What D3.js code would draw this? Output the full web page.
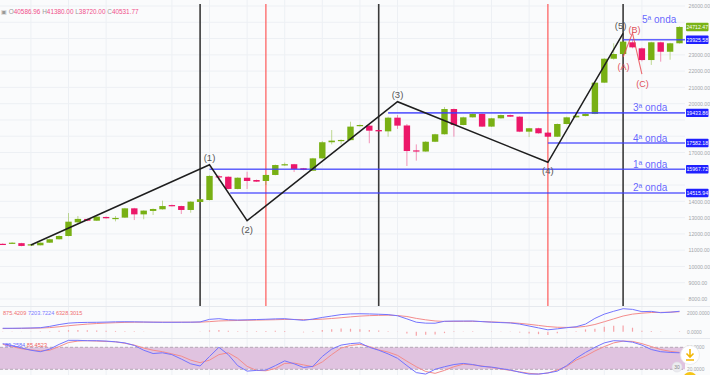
<!DOCTYPE html>
<html>
<head>
<meta charset="utf-8">
<script src="https://cdn.jsdelivr.net/npm/d3@7/dist/d3.min.js"></script>
<style>
    html, body { margin: 0; padding: 0; background: #fafbfc; }
    svg { display: block; font-family: "Liberation Sans", Arial, sans-serif; }
</style>
</head>
<body>
<svg id="chart" width="710" height="375"></svg>
<script>
// Weekly candles, Elliott wave count + MACD + Stochastic

const opens  = [11390,11400,11430,11290,11300,11460,11670,11870,12710,12920,12810,13040,12940,13000,13570,13200,13410,13510,13770,13710,13470,13960,
    14080,15540,15510,14760,15450,15310,15250,15620,16210,16280,16030,15880,16640,17630,17730,17760,18630,18650,18380,18300,19140,18660,17130,
    17060,17660,18120,19670,18690,19160,19370,18590,19100,19300,19200,18280,18490,18220,17970,18750,19160,19240,19370,21290,22760,23050,23770,
    23400,22680,23770,23190,23710];
const highs  = [11420,11490,11450,11380,11480,11700,11920,13280,13100,12950,13090,13070,13100,13600,13600,13450,13560,14040,13800,13730,14010,14160,
    15600,15620,15540,15480,15820,15340,15650,16260,16380,16300,16050,16670,17700,18380,17800,18890,18720,18680,18400,19200,19300,18750,17500,
    17700,18150,19800,19700,19200,19400,19400,19130,19330,19330,19230,18510,18520,18240,18780,19200,19300,19400,21320,22800,23710,23860,23900,
    23450,23800,23800,23740,24750];
const lows   = [11330,11380,11240,11270,11290,11440,11650,11850,12680,12780,12790,12940,12770,12980,12850,12900,13160,13490,13690,13220,13300,13940,
    14060,15270,14740,14740,14760,15190,15000,15600,16180,15800,15910,15860,16620,17500,17500,17740,18600,17570,18280,17970,18450,16170,16500,
    17040,17640,18100,17970,18670,19140,18570,18570,19080,19180,18250,17950,18160,17950,17950,18730,19140,19220,19350,21270,22700,23020,23400,
    22600,22380,22580,22700,23690];
const closes = [11360,11460,11260,11360,11460,11670,11870,12750,12920,12810,13060,12960,12980,13570,13200,13430,13530,13710,13710,13470,13980,14130,
    15560,15510,14760,15450,15250,15210,15620,16230,16280,15990,15930,16640,17630,17730,17770,18590,18690,18340,18300,19140,18650,17090,17060,
    17660,18120,19670,18690,19160,19370,18590,19100,19300,19200,18280,18490,18180,17970,18750,19160,19260,19370,21290,22760,23050,23810,23460,
    22680,23770,23190,23710,24712.47];

// Elliott impulse (candle index, price) and corrective ABC
const waveIdx    = [3, 22, 26, 42, 58, 66];
const wavePrice  = [11320, 16250, 12810, 20120, 16400, 24320];
const waveLabels = ['', '(1)', '(2)', '(3)', '(4)', '(5)'];
const abcIdx     = [66, 67, 68];
const abcPrice   = [22870, 24340, 21820];
const abcLabels  = ['(A)', '(B)', '(C)'];

// Horizontal wave levels
const levelPrices = [23925.58, 19433.86, 17582.18, 15967.72, 14515.94];
const levelNames  = ['5ª onda', '3ª onda', '4ª onda', '1ª onda', '2ª onda'];
const levelFrom   = [66, 41, 58, 22, 24.2];

// Vertical markers (candle index)
const vlineIdx    = [21, 28, 40, 58, 66];
const vlineColor  = ['#3a3a3a', '#ff4a4a', '#3a3a3a', '#ff4a4a', '#3a3a3a'];

const timeGridIdx = [3, 7, 11, 18, 22, 26, 30, 34, 38, 42, 48, 52, 56, 60, 64, 68];
const priceTicks  = d3.range(8000, 26001, 1000);

// MACD pane
const macdLine = [360,360,370,390,420,560,750,900,960,980,990,1010,1040,1050,1040,1020,1000,990,990,995,1000,1030,1300,1370,1260,1230,1250,
    1280,1310,1350,1370,1280,1200,1330,1500,1650,1800,1870,1890,1870,1840,1800,1680,1350,1000,900,890,1100,1120,1120,1125,1060,1000,960,920,
    800,600,400,200,300,420,520,800,1400,1850,2150,2420,2350,2110,2140,2000,2050,2150];
const macdSignal = [330,340,350,365,385,430,520,630,720,800,860,910,950,980,1000,1005,1005,1000,1000,1000,1000,1005,1060,1130,1160,1180,1200,
    1220,1240,1260,1290,1290,1270,1280,1320,1390,1470,1560,1640,1690,1720,1740,1700,1600,1400,1250,1130,1080,1080,1090,1090,1070,1030,990,950,
    880,780,660,540,470,450,470,560,760,1050,1350,1650,1850,1950,2020,2030,2060,2100];
const macdHist = [20,20,20,30,40,60,100,160,180,150,120,100,80,60,40,20,0,-10,-10,0,0,20,140,180,100,50,50,60,70,90,80,0,-70,50,180,260,330,310,
    250,180,120,60,-20,-200,-420,-320,-300,-150,40,30,40,-10,-30,-30,-30,-80,-180,-260,-340,-170,-30,50,240,320,520,620,640,420,100,80,-30,-10,50];
const macdTexts = ['875.4209', '7203.7224', '6328.3015'];

// Stochastic pane
const stochK = [90,85,78,72,68,75,88,99,99,98,98,97,95,92,85,72,63,65,60,48,35,29,55,80,60,30,15,17,18,30,43,35,25,28,55,75,86,90,92,80,72,62,50,
    30,11,7,20,27,33,36,33,28,26,22,18,12,7,7,10,15,30,50,66,80,92,98,97,94,86,74,68,66,65];
const stochD = [88,82,76,73,70,72,82,93,97,98,97,96,95,91,86,78,72,68,62,56,45,38,45,60,65,50,28,17,16,22,36,37,32,27,40,60,78,85,88,82,73,67,58,
    42,27,14,9,17,27,34,32,29,25,21,17,13,9,7,10,18,28,45,56,70,82,92,97,96,90,82,74,69,66];
const stochTexts = ['89.2584', '85.4523'];

const ohlcTitle = [['O', '40586.96'], ['H', '41380.00'], ['L', '38720.00'], ['C', '40531.77']];

const GREEN = '#78b014', PINK = '#ec1769', LEVEL = '#3d3dff';
const plotRight = 685;

const svg = d3.select('#chart');
const x = d3.scaleLinear().domain([0, 72]).range([2.7, 679.5]);
const y = d3.scaleLinear().domain([8000, 26000]).range([299, 6]);
const macdY = d3.scaleLinear().domain([0, 2000]).range([331.7, 312.7]);
const stochY = d3.scaleLinear().domain([20, 80]).range([369.3, 347.3]);

svg.append('rect').attr('width', 710).attr('height', 375).attr('fill', '#fafbfc');

const defs = svg.append('defs');
defs.append('clipPath').attr('id', 'mainClip').append('rect').attr('x', 0).attr('y', 0).attr('width', plotRight).attr('height', 306);
defs.append('clipPath').attr('id', 'macdClip').append('rect').attr('x', 0).attr('y', 307).attr('width', plotRight).attr('height', 31);
defs.append('clipPath').attr('id', 'stochClip').append('rect').attr('x', 0).attr('y', 338).attr('width', plotRight).attr('height', 37);

// Grid
const grid = svg.append('g');
grid.selectAll('.hgrid').data(priceTicks).enter().append('line')
    .attr('x1', 0).attr('x2', plotRight)
    .attr('y1', d => y(d)).attr('y2', d => y(d))
    .attr('stroke', '#edf0f4').attr('stroke-width', 1);
grid.selectAll('.vgrid').data(timeGridIdx).enter().append('line')
    .attr('x1', d => x(d)).attr('x2', d => x(d))
    .attr('y1', 0).attr('y2', 375)
    .attr('stroke', '#edf0f4').attr('stroke-width', 1);

// Pane separators
[306.5, 338.5].forEach(v => {
    svg.append('line').attr('x1', 0).attr('x2', 710).attr('y1', v).attr('y2', v)
        .attr('stroke', '#e6e9ee').attr('stroke-width', 1);
});

const main = svg.append('g').attr('clip-path', 'url(#mainClip)');

// Vertical markers
main.selectAll('.vline').data(vlineIdx).enter().append('line')
    .attr('x1', d => x(d)).attr('x2', d => x(d))
    .attr('y1', 4).attr('y2', 306)
    .attr('stroke', (d, i) => vlineColor[i])
    .attr('stroke-width', (d, i) => i % 2 === 0 ? 1.6 : 1.1);

// Candles
const candles = d3.range(opens.length).map(i => ({
    i, o: opens[i], h: highs[i], l: lows[i], c: closes[i], up: closes[i] >= opens[i]
}));

main.selectAll('.wick').data(candles).enter().append('line')
    .attr('x1', d => x(d.i)).attr('x2', d => x(d.i))
    .attr('y1', d => y(d.h)).attr('y2', d => y(d.l))
    .attr('stroke', d => d.up ? GREEN : PINK)
    .attr('stroke-opacity', 0.45)
    .attr('stroke-width', 1);

main.selectAll('.body').data(candles).enter().append('rect')
    .attr('x', d => x(d.i) - 3.2)
    .attr('width', 6.4)
    .attr('y', d => y(Math.max(d.o, d.c)))
    .attr('height', d => Math.max(1.2, Math.abs(y(d.o) - y(d.c))))
    .attr('fill', d => d.up ? GREEN : PINK);

// Wave levels
const levels = levelPrices.map((p, i) => ({ p, name: levelNames[i], from: levelFrom[i] }));
main.selectAll('.level').data(levels).enter().append('line')
    .attr('x1', d => x(d.from)).attr('x2', plotRight)
    .attr('y1', d => y(d.p)).attr('y2', d => y(d.p))
    .attr('stroke', LEVEL).attr('stroke-opacity', 0.8).attr('stroke-width', 1.6);

main.selectAll('.levelText').data(levels).enter().append('text')
    .attr('x', (d, i) => i === 0 ? 642 : 633)
    .attr('y', (d, i) => i === 0 ? y(d.p) - 17 : y(d.p) - 1.5)
    .attr('fill', LEVEL).attr('fill-opacity', 0.8)
    .style('font-size', '10px')
    .text(d => d.name);

// Elliott impulse
const wave = waveIdx.map((idx, i) => ({ i: idx, p: wavePrice[i], label: waveLabels[i] }));
const line = d3.line().x(d => x(d.i)).y(d => y(d.p));

main.append('path').datum(wave)
    .attr('d', line).attr('fill', 'none')
    .attr('stroke', '#1e1e1e').attr('stroke-width', 1.5);

main.selectAll('.waveLabel').data(wave.slice(1)).enter().append('text')
    .attr('x', (d, i) => i === 4 ? x(d.i) - 2.5 : x(d.i))
    .attr('y', (d, i) => i % 2 === 0 ? y(d.p) - 4 : y(d.p) + 12)
    .attr('text-anchor', 'middle')
    .attr('fill', '#555')
    .style('font-size', '9.5px')
    .text(d => d.label);

// Corrective ABC
const abc = abcIdx.map((idx, i) => ({ i: idx, p: abcPrice[i], label: abcLabels[i] }));
main.append('path').datum(abc)
    .attr('d', line).attr('fill', 'none')
    .attr('stroke', '#e8474f').attr('stroke-opacity', 0.8).attr('stroke-width', 1.1);

main.selectAll('.abcLabel').data(abc).enter().append('text')
    .attr('x', (d, i) => i === 1 ? x(d.i) + 2 : x(d.i) + 0.5)
    .attr('y', (d, i) => i === 1 ? y(d.p) - 0.5 : y(d.p) + 13)
    .attr('text-anchor', 'middle')
    .attr('fill', '#e0505a')
    .style('font-size', '9px')
    .text(d => d.label);

// OHLC header
const header = svg.append('text').attr('x', 1).attr('y', 14).style('font-size', '6.4px');
header.append('tspan').attr('fill', '#999').text('▣ ');
ohlcTitle.forEach(([k, v]) => {
    header.append('tspan').attr('fill', '#9a9a9a').text(k);
    header.append('tspan').attr('fill', '#f0508a').text(v + '  ');
});

// Price axis
const boxes = [...levelPrices.map(p => ({ p, fill: '#2020ff' })), { p: closes[closes.length - 1], fill: '#7ab317' }];
const visibleTicks = priceTicks.filter(t => boxes.every(b => Math.abs(y(t) - y(b.p)) > 8));

const axis = svg.append('g')
    .attr('transform', `translate(${plotRight + 2},0)`)
    .call(d3.axisRight(y).tickValues(visibleTicks).tickSize(0).tickFormat(d3.format('.2f')));
axis.select('.domain').remove();
axis.selectAll('text').attr('fill', '#a3a6ab').style('font-size', '5.2px')
    .style('font-family', '"Liberation Sans", Arial, sans-serif').attr('x', 1.5);

const boxG = svg.selectAll('.pbox').data(boxes).enter().append('g')
    .attr('transform', d => `translate(${plotRight + 1},${y(d.p)})`);
boxG.append('rect').attr('x', 0).attr('y', -4.2).attr('width', 22.5).attr('height', 8.4)
    .attr('fill', d => d.fill).attr('rx', 0.8);
boxG.append('text').attr('x', 11.2).attr('y', 1.9).attr('text-anchor', 'middle')
    .attr('fill', '#fff').style('font-size', '5.2px')
    .text(d => d3.format('.2f')(d.p));

// MACD pane
const macd = svg.append('g').attr('clip-path', 'url(#macdClip)');
macd.selectAll('.hist').data(macdHist).enter().append('line')
    .attr('x1', (d, i) => x(i)).attr('x2', (d, i) => x(i))
    .attr('y1', macdY(0)).attr('y2', d => macdY(d))
    .attr('stroke', '#f5a3a8').attr('stroke-width', 1.2);

const macdLineGen = d3.line().x((d, i) => x(i)).y(d => macdY(d));
macd.append('path').datum(macdSignal).attr('d', macdLineGen)
    .attr('fill', 'none').attr('stroke', '#f48c8c').attr('stroke-width', 1);
macd.append('path').datum(macdLine).attr('d', macdLineGen)
    .attr('fill', 'none').attr('stroke', '#7474ff').attr('stroke-width', 1);

const macdLegend = svg.append('text').attr('x', 3).attr('y', 315).style('font-size', '5.6px');
macdTexts.forEach((t, i) => {
    macdLegend.append('tspan').attr('fill', i === 1 ? '#7c7cff' : '#f07070').text(t + '   ');
});

const macdAxis = svg.append('g')
    .attr('transform', `translate(${plotRight + 1},0)`)
    .call(d3.axisRight(macdY).tickValues([0, 2000]).tickSize(0).tickFormat(d3.format('.4f')));
macdAxis.select('.domain').remove();
macdAxis.selectAll('text').attr('fill', '#a3a6ab').style('font-size', '4.8px')
    .style('font-family', '"Liberation Sans", Arial, sans-serif').attr('x', 1);

// Stochastic pane
const stoch = svg.append('g').attr('clip-path', 'url(#stochClip)');
stoch.append('rect')
    .attr('x', 0).attr('width', plotRight)
    .attr('y', stochY(80)).attr('height', stochY(20) - stochY(80))
    .attr('fill', '#e0c3e0');
[80, 20].forEach(v => {
    stoch.append('line').attr('x1', 0).attr('x2', plotRight)
        .attr('y1', stochY(v)).attr('y2', stochY(v))
        .attr('stroke', '#a79aa7').attr('stroke-width', 0.8).attr('stroke-dasharray', '3,2');
});

const stochLineGen = d3.line().x((d, i) => x(i)).y(d => stochY(d));
stoch.append('path').datum(stochD).attr('d', stochLineGen)
    .attr('fill', 'none').attr('stroke', '#f48c8c').attr('stroke-width', 1);
stoch.append('path').datum(stochK).attr('d', stochLineGen)
    .attr('fill', 'none').attr('stroke', '#7474ff').attr('stroke-width', 1);

const stochLegend = svg.append('text').attr('x', 5).attr('y', 347).style('font-size', '5.6px');
stochTexts.forEach((t, i) => {
    stochLegend.append('tspan').attr('fill', i === 0 ? '#6a6aff' : '#f06060').text(t + '   ');
});

const stochAxis = svg.append('g')
    .attr('transform', `translate(${plotRight + 1},0)`)
    .call(d3.axisRight(stochY).tickValues([80, 20]).tickSize(0).tickFormat(d3.format('.4f')));
stochAxis.select('.domain').remove();
stochAxis.selectAll('text').attr('fill', '#a3a6ab').style('font-size', '4.8px')
    .style('font-family', '"Liberation Sans", Arial, sans-serif').attr('x', 1);

// Floating buttons (bottom right)
svg.append('circle').attr('cx', 690).attr('cy', 355).attr('r', 9.5)
    .attr('fill', '#fff').attr('stroke', '#e8e8e8').attr('stroke-width', 0.8);
svg.append('path')
    .attr('d', 'M690,349 L690,357 M686.5,353.5 L690,357 L693.5,353.5 M686,360 L694,360')
    .attr('fill', 'none').attr('stroke', '#f2b705').attr('stroke-width', 1.6);
svg.append('circle').attr('cx', 677).attr('cy', 367).attr('r', 5)
    .attr('fill', '#ececf0').attr('stroke', '#dcdce2').attr('stroke-width', 0.6);
svg.append('text').attr('x', 677).attr('y', 369).attr('text-anchor', 'middle')
    .attr('fill', '#888').style('font-size', '5px').text('30');
svg.append('circle').attr('cx', 690).attr('cy', 379).attr('r', 7).attr('fill', '#f5c518');
</script>
</body>
</html>
